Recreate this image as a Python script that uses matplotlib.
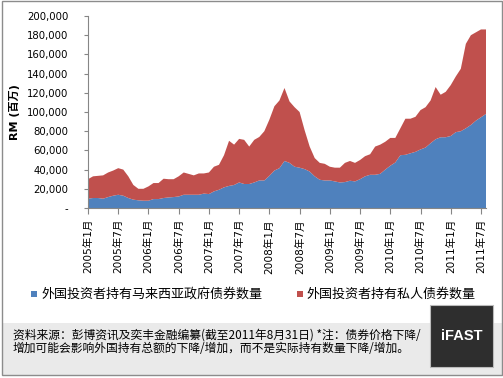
import matplotlib
matplotlib.use("Agg")
import matplotlib.pyplot as plt
from matplotlib.patches import Rectangle
from matplotlib.ticker import FuncFormatter

W, H = 503, 378
BLUE = "#4F81BD"; RED = "#C0504D"; AXIS = "#868686"; BORDER = "#8C8C8C"
CJK = ["Noto Sans CJK SC", "DejaVu Sans"]
LAT = ["DejaVu Sans", "Noto Sans CJK SC"]

# monthly, 2005-01 .. 2011-08 (RM million)
gov = [9700, 10400, 10400, 9700, 11400, 12800, 13800, 12800, 10400, 8700,
       8000, 7600, 7600, 9300, 9300, 10400, 11000, 11400, 12000, 13800,
       13800, 13800, 13800, 15000, 14500, 17300, 19000, 21500, 23000, 24000,
       26600, 25000, 25000, 26600, 28700, 28700, 33500, 39000, 41500, 49000,
       47000, 43000, 42000, 40500, 38000, 33000, 29400, 28700, 28700, 27700,
       26600, 27000, 28400, 27700, 30000, 33000, 34600, 34600, 35600, 40000,
       44000, 47400, 55000, 55400, 57000, 58500, 61000, 63000, 67500, 71600,
       73700, 73700, 75000, 79000, 80000, 83000, 86500, 91000, 94500, 98000]
private = [20300, 22600, 23100, 24300, 25600, 26200, 27700, 27200, 22600, 15300,
           12000, 12400, 14900, 16700, 16700, 20100, 19000, 18600, 21000, 23200,
           21700, 20200, 22200, 21000, 22500, 25700, 26000, 33500, 47000, 42000,
           45400, 46000, 39000, 44400, 45300, 51300, 58500, 67000, 70500, 76000,
           64000, 62000, 58000, 40500, 26000, 19000, 17600, 17300, 14300, 14300,
           15400, 20000, 20600, 19300, 20000, 21000, 21400, 29400, 30400, 29000,
           29000, 25600, 28000, 37600, 36000, 36500, 41000, 42000, 44500, 54400,
           44300, 47300, 53000, 58000, 65000, 88000, 93500, 92000, 91500, 88000]
months = [f"{2005 + i // 12}年{i % 12 + 1}月" for i in range(len(gov))]
series_names = ["外国投资者持有马来西亚政府债券数量", "外国投资者持有私人债券数量"]
yticks = list(range(0, 200001, 20000))


def fx(x):
    return x / W


def fy(y):
    return 1 - y / H


fig = plt.figure(figsize=(W / 100, H / 100), dpi=100)
fig.patch.set_facecolor("white")

# footer background and outer border
fig.patches.append(Rectangle((fx(2), fy(375)), fx(500), (375 - 323) / H,
                             transform=fig.transFigure, fc="#EAEAEA", ec="none", zorder=0))
fig.patches.append(Rectangle((fx(2), fy(375)), fx(500), (375 - 1) / H,
                             transform=fig.transFigure, fc="none", ec=BORDER, lw=1, zorder=1))

ax = fig.add_axes([fx(88), fy(208), fx(486 - 88), (208 - 16) / H])
x = list(range(len(gov)))
ax.stackplot(x, gov, private, colors=[BLUE, RED], lw=0)
ax.set_xlim(0, len(gov) - 1)
ax.set_ylim(0, 200000)
ax.set_yticks(yticks)
ax.yaxis.set_major_formatter(FuncFormatter(lambda v, p: "-" if v == 0 else f"{int(v):,}"))
ax.set_xticks(x[::6])
ax.set_xticklabels(months[::6], rotation=90, family=LAT, fontsize=7.6)
for s in ["top", "right"]:
    ax.spines[s].set_visible(False)
for s in ["left", "bottom"]:
    ax.spines[s].set_color(AXIS)
ax.tick_params(axis="y", length=3, color=AXIS, pad=11, labelsize=7.3)
ax.tick_params(axis="x", length=4, color=AXIS, pad=4)
for t in ax.get_yticklabels():
    t.set_family(LAT)

fig.text(fx(15), fy(112), "RM (百万)", rotation=90, ha="center", va="center",
         fontsize=8, fontweight="bold", family=LAT)

# legend
for sx, tx, name, col in [(31, 41, series_names[0], BLUE), (297, 306, series_names[1], RED)]:
    fig.patches.append(Rectangle((fx(sx), fy(297)), 6 / W, 6 / H,
                                 transform=fig.transFigure, fc=col, ec="none"))
    fig.text(fx(tx), fy(294), name, ha="left", va="center", fontsize=9.4, family=CJK)

# footer text
fig.text(fx(13), fy(335), "资料来源：彭博资讯及奕丰金融编纂(截至2011年8月31日) *注：债券价格下降/",
         ha="left", va="center", fontsize=8.5, family=CJK)
fig.text(fx(13), fy(348), "增加可能会影响外国持有总额的下降/增加，而不是实际持有数量下降/增加。",
         ha="left", va="center", fontsize=8.5, family=CJK)

# logo
fig.patches.append(Rectangle((fx(430), fy(367)), 63 / W, 62 / H,
                             transform=fig.transFigure, fc="#2E2E2E", ec="#BBBBBB", lw=0.8, zorder=3))
fig.text(fx(461.5), fy(336), "iFAST", ha="center", va="center", color="white",
         fontsize=10.5, fontweight="bold", family="Liberation Sans", zorder=4)

fig.savefig("out.png", dpi=100, facecolor="white")
